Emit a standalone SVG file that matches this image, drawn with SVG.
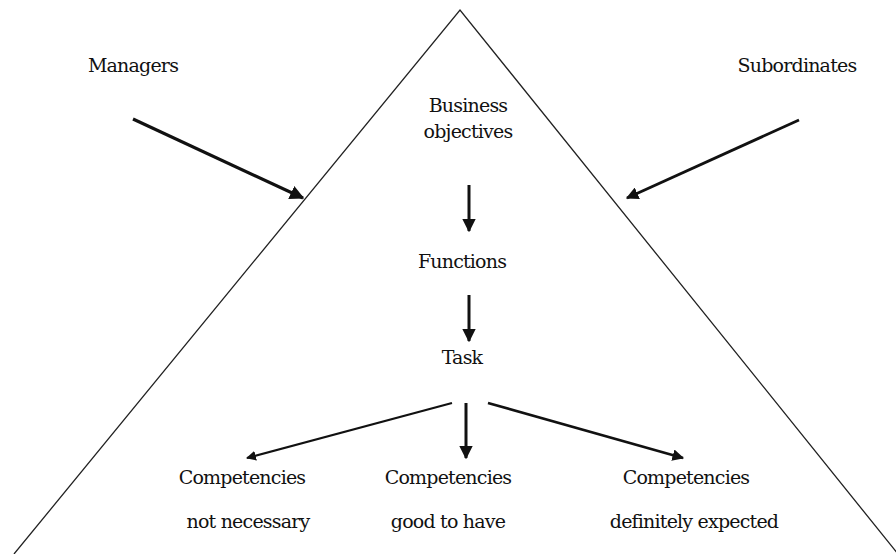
<svg xmlns="http://www.w3.org/2000/svg" width="896" height="554" viewBox="0 0 896 554">
<defs>
<marker id="ah" viewBox="0 0 10 10" refX="9" refY="5" markerWidth="4.5" markerHeight="4.5" markerUnits="strokeWidth" orient="auto">
<path d="M0,0 L10,5 L0,10 z" fill="#111"/>
</marker>
<style>
text{font-size:19px;fill:#111;text-anchor:middle}
.c{stroke:#111;fill:none}
</style>
</defs>
<rect width="896" height="554" fill="#fff"/>
<g id="pyramid"><path d="M14,554 L460,10 L898,554" fill="none" stroke="#222" stroke-width="1.3"/></g>
<g font-family="'DejaVu Serif', serif" letter-spacing="-0.8">
<g id="managers"><text x="133" y="72">Managers</text></g>
<g id="subordinates"><text x="797" y="72">Subordinates</text></g>
<g id="objectives"><text x="468" y="112">Business</text><text x="468" y="138">objectives</text></g>
<g id="functions"><text x="462" y="268">Functions</text></g>
<g id="task"><text x="462" y="364">Task</text></g>
<g id="comp-not"><text x="242" y="484">Competencies</text><text x="248" y="528">not necessary</text></g>
<g id="comp-good"><text x="448" y="484">Competencies</text><text x="448" y="528">good to have</text></g>
<g id="comp-def"><text x="686" y="484">Competencies</text><text x="694" y="528">definitely expected</text></g>
</g>
<g id="connectors">
<line class="c" x1="133" y1="119" x2="303" y2="198" stroke-width="3.2" marker-end="url(#ah)"/>
<line class="c" x1="799" y1="120" x2="627" y2="198" stroke-width="2.8" marker-end="url(#ah)"/>
<line class="c" x1="469" y1="185" x2="469" y2="231" stroke-width="3" marker-end="url(#ah)"/>
<line class="c" x1="469" y1="295" x2="469" y2="341" stroke-width="3" marker-end="url(#ah)"/>
<line class="c" x1="452" y1="403" x2="247" y2="458" stroke-width="2.2" marker-end="url(#ah)"/>
<line class="c" x1="466" y1="403" x2="466" y2="458" stroke-width="3" marker-end="url(#ah)"/>
<line class="c" x1="488" y1="403" x2="683" y2="458" stroke-width="2.6" marker-end="url(#ah)"/>
</g>
</svg>
